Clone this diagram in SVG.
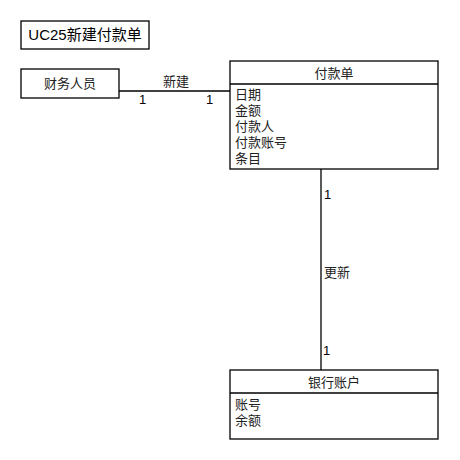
<svg xmlns="http://www.w3.org/2000/svg" width="460" height="460" viewBox="0 0 460 460">
  <style>
    .box { fill: #ffffff; stroke: #000000; stroke-width: 1.3; }
    .line { fill: none; stroke: #000000; stroke-width: 1.3; }
    text { font-family: "Liberation Sans", "Noto Sans CJK SC", sans-serif; fill: #222222; }
    .t { font-size: 13px; }
    .title { font-size: 15px; fill: #000000; }
    .mult { font-size: 13px; fill: #000000; }
  </style>
  <rect width="460" height="460" fill="#ffffff"/>

  <!-- connectors -->
  <g id="connectors">
    <line class="line" x1="119" y1="91" x2="230" y2="91"/>
    <text class="t" x="176" y="86" text-anchor="middle">新建</text>
    <text class="mult" x="139" y="104">1</text>
    <text class="mult" x="206" y="104">1</text>

    <line class="line" x1="321" y1="169" x2="321" y2="370"/>
    <text class="mult" x="324" y="199">1</text>
    <text class="t" x="324" y="277">更新</text>
    <text class="mult" x="323" y="355">1</text>
  </g>

  <g id="title">
    <rect class="box" x="21" y="21" width="128" height="28"/>
    <text class="title" x="85" y="40" text-anchor="middle">UC25新建付款单</text>
  </g>

  <g id="actor">
    <rect class="box" x="21" y="69" width="98" height="29"/>
    <text class="t" x="70" y="88" text-anchor="middle">财务人员</text>
  </g>

  <g id="payment">
    <rect class="box" x="230" y="61" width="208" height="108"/>
    <line class="line" x1="230" y1="84" x2="438" y2="84"/>
    <text class="t" x="334" y="78" text-anchor="middle">付款单</text>
    <text class="t" x="235" y="99">日期</text>
    <text class="t" x="235" y="115">金额</text>
    <text class="t" x="235" y="131">付款人</text>
    <text class="t" x="235" y="147">付款账号</text>
    <text class="t" x="235" y="163">条目</text>
  </g>

  <g id="account">
    <rect class="box" x="230" y="370" width="208" height="69"/>
    <line class="line" x1="230" y1="393" x2="438" y2="393"/>
    <text class="t" x="334" y="387" text-anchor="middle">银行账户</text>
    <text class="t" x="235" y="409">账号</text>
    <text class="t" x="235" y="425">余额</text>
  </g>
</svg>
